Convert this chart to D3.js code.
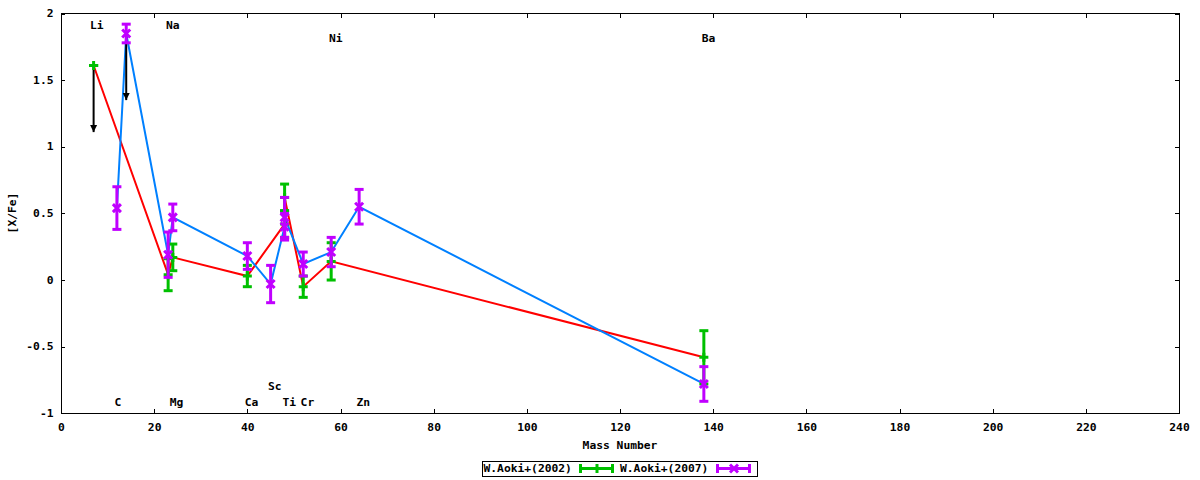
<!DOCTYPE html>
<html lang="en">
<head>
<meta charset="utf-8">
<title>X/Fe vs Mass Number</title>
<style>
  body {
    margin: 0;
    padding: 0;
    background: #fff;
    overflow: hidden;
  }
  text {
    font-family: "DejaVu Sans Mono", monospace;
    font-weight: bold;
    font-size: 11.3px;
    fill: #000;
  }
  .frame {
    fill: none;
    stroke: #000;
    stroke-width: 1px;
    shape-rendering: crispEdges;
  }
  .tick line {
    stroke: #000;
    shape-rendering: crispEdges;
  }
</style>
<script src="https://cdn.jsdelivr.net/npm/d3@7"></script>
</head>
<body>
<script>

// W.Aoki+(2002)
var mass2002 = [7, 23, 24, 40, 48, 48, 52, 58, 138];
var xfe2002 = [1.61, 0.04, 0.17, 0.03, 0.42, 0.62, -0.05, 0.14, -0.58];
var err2002 = [0, 0.12, 0.10, 0.08, 0.10, 0.10, 0.08, 0.14, 0.20];

// W.Aoki+(2007)
var mass2007 = [12, 14, 23, 24, 40, 45, 48, 48, 52, 58, 64, 138];
var xfe2007 = [0.54, 1.85, 0.19, 0.47, 0.18, -0.03, 0.40, 0.47, 0.12, 0.21, 0.55, -0.78];
var err2007 = [0.16, 0.07, 0.17, 0.10, 0.10, 0.14, 0.10, 0.15, 0.09, 0.11, 0.13, 0.13];

// upper limits (arrows)
var limitMass = [7, 14];
var limitFrom = [1.61, 1.85];
var limitTo = [1.11, 1.35];

// element labels
var elemNames = ["Li", "Na", "Ni", "Ba", "C", "Mg", "Ca", "Sc", "Ti", "Cr", "Zn"];
var elemX = [7.7, 24, 59, 139, 12.2, 24.8, 40.9, 45.9, 49, 52.9, 64.9];
var elemY = [1.906, 1.906, 1.81, 1.81, -0.923, -0.923, -0.923, -0.803, -0.923, -0.923, -0.923];

var xTicks = [0, 20, 40, 60, 80, 100, 120, 140, 160, 180, 200, 220, 240];
var yTicks = [-1, -0.5, 0, 0.5, 1, 1.5, 2];

var legendNames = ["W.Aoki+(2002)", "W.Aoki+(2007)"];

var plotL = 61, plotR = 1179, plotT = 13.5, plotB = 413.3;

var svg = d3.select('body').append('svg')
    .attr('width', 1200)
    .attr('height', 480);

var x = d3.scaleLinear().domain([0, 240]).range([plotL, plotR]);
var y = d3.scaleLinear().domain([-1, 2]).range([plotB, plotT]);

function plain(d) { return String(d); }

// axes (ticks inward, mirrored)
var gx = svg.append('g').attr('transform', 'translate(0,' + plotB + ')')
    .call(d3.axisBottom(x).tickValues(xTicks).tickSizeInner(-4).tickSizeOuter(0).tickFormat(plain));
gx.select('.domain').remove();
gx.selectAll('text').attr('dy', null).attr('y', 15).attr('dominant-baseline', 'middle')
    .style('font-size', '11.3px').style('font-family', '"DejaVu Sans Mono", monospace');

var gxt = svg.append('g').attr('transform', 'translate(0,' + plotT + ')')
    .call(d3.axisTop(x).tickValues(xTicks).tickSizeInner(-4).tickSizeOuter(0).tickFormat(''));
gxt.select('.domain').remove();

var gy = svg.append('g').attr('transform', 'translate(' + plotL + ',0)')
    .call(d3.axisLeft(y).tickValues(yTicks).tickSizeInner(-4).tickSizeOuter(0).tickFormat(plain));
gy.select('.domain').remove();
gy.selectAll('text').attr('x', -7.5).attr('dy', null).attr('dominant-baseline', 'middle')
    .style('font-size', '11.3px').style('font-family', '"DejaVu Sans Mono", monospace');

var gyr = svg.append('g').attr('transform', 'translate(' + plotR + ',0)')
    .call(d3.axisRight(y).tickValues(yTicks).tickSizeInner(-4).tickSizeOuter(0).tickFormat(''));
gyr.select('.domain').remove();

svg.append('rect').attr('class', 'frame')
    .attr('x', plotL + 0.5).attr('y', plotT)
    .attr('width', plotR - plotL).attr('height', plotB - plotT);

svg.append('text').attr('x', 620).attr('y', 446).attr('text-anchor', 'middle')
    .attr('dominant-baseline', 'middle').text('Mass Number');

svg.append('text').attr('transform', 'translate(13,213) rotate(-90)')
    .attr('text-anchor', 'middle').attr('dominant-baseline', 'middle').text('[X/Fe]');

// connecting lines
var line = d3.line().x(function(d) { return x(d[0]); }).y(function(d) { return y(d[1]); });

svg.append('path').datum(d3.zip(mass2002, xfe2002))
    .attr('d', line).attr('fill', 'none').attr('stroke', '#ff0000').attr('stroke-width', 2);

svg.append('path').datum(d3.zip(mass2007, xfe2007))
    .attr('d', line).attr('fill', 'none').attr('stroke', '#0080ff').attr('stroke-width', 2);

// upper limit arrows
svg.append('defs').append('marker')
    .attr('id', 'ahead').attr('viewBox', '0 0 10 10')
    .attr('refX', 10).attr('refY', 5)
    .attr('markerUnits', 'userSpaceOnUse')
    .attr('markerWidth', 7).attr('markerHeight', 8)
    .attr('orient', 'auto')
  .append('path').attr('d', 'M0,0 L10,5 L0,10 z').attr('fill', '#000');

for (var a = 0; a < limitMass.length; a++) {
  svg.append('line')
      .attr('x1', x(limitMass[a])).attr('x2', x(limitMass[a]))
      .attr('y1', y(limitFrom[a])).attr('y2', y(limitTo[a]))
      .attr('stroke', '#000').attr('stroke-width', 2)
      .attr('marker-end', 'url(#ahead)');
}

// error bars
function errorBars(ms, vs, es, color, kind) {
  var g = svg.append('g').attr('stroke', color).attr('stroke-width', 3).attr('fill', 'none');
  for (var i = 0; i < ms.length; i++) {
    var px = x(ms[i]), py = y(vs[i]), hi = y(vs[i] + es[i]), lo = y(vs[i] - es[i]);
    g.append('line').attr('x1', px).attr('x2', px).attr('y1', hi).attr('y2', lo);
    g.append('line').attr('x1', px - 4.5).attr('x2', px + 4.5).attr('y1', hi).attr('y2', hi);
    g.append('line').attr('x1', px - 4.5).attr('x2', px + 4.5).attr('y1', lo).attr('y2', lo);
    marker(g, px, py, kind);
  }
}

function marker(g, px, py, kind) {
  if (kind == 'plus') {
    g.append('path').attr('d', 'M' + (px - 4.5) + ',' + py + 'H' + (px + 4.5) + 'M' + px + ',' + (py - 4.5) + 'V' + (py + 4.5));
  } else {
    g.append('path').attr('d', 'M' + (px - 4) + ',' + (py - 4) + 'L' + (px + 4) + ',' + (py + 4) +
        'M' + (px - 4) + ',' + (py + 4) + 'L' + (px + 4) + ',' + (py - 4));
  }
}

errorBars(mass2002, xfe2002, err2002, '#00c000', 'plus');
errorBars(mass2007, xfe2007, err2007, '#c000ff', 'cross');

// element labels
svg.selectAll('.elem').data(elemNames).enter().append('text')
    .attr('class', 'elem')
    .attr('x', function(d, i) { return x(elemX[i]); })
    .attr('y', function(d, i) { return y(elemY[i]); })
    .attr('text-anchor', 'middle').attr('dominant-baseline', 'middle')
    .text(function(d) { return d; });

// legend
var lg = svg.append('g');
lg.append('rect').attr('x', 482.5).attr('y', 461.5).attr('width', 275).attr('height', 14.5)
    .attr('fill', 'none').attr('stroke', '#000').attr('stroke-width', 1).style('shape-rendering', 'crispEdges');

var legX = [483.5, 620];
var sampleX = [579, 716];
var legColor = ['#00c000', '#c000ff'];
var legKind = ['plus', 'cross'];
for (var k = 0; k < 2; k++) {
  lg.append('text').attr('x', legX[k]).attr('y', 469).attr('dominant-baseline', 'middle').text(legendNames[k]);
  var sg = lg.append('g').attr('stroke', legColor[k]).attr('stroke-width', 3).attr('fill', 'none');
  sg.append('line').attr('x1', sampleX[k]).attr('x2', sampleX[k] + 35).attr('y1', 468.5).attr('y2', 468.5);
  sg.append('line').attr('x1', sampleX[k] + 1.5).attr('x2', sampleX[k] + 1.5).attr('y1', 464).attr('y2', 473);
  sg.append('line').attr('x1', sampleX[k] + 33.5).attr('x2', sampleX[k] + 33.5).attr('y1', 464).attr('y2', 473);
  marker(sg, sampleX[k] + 18, 468.5, legKind[k]);
}

</script>
</body>
</html>
